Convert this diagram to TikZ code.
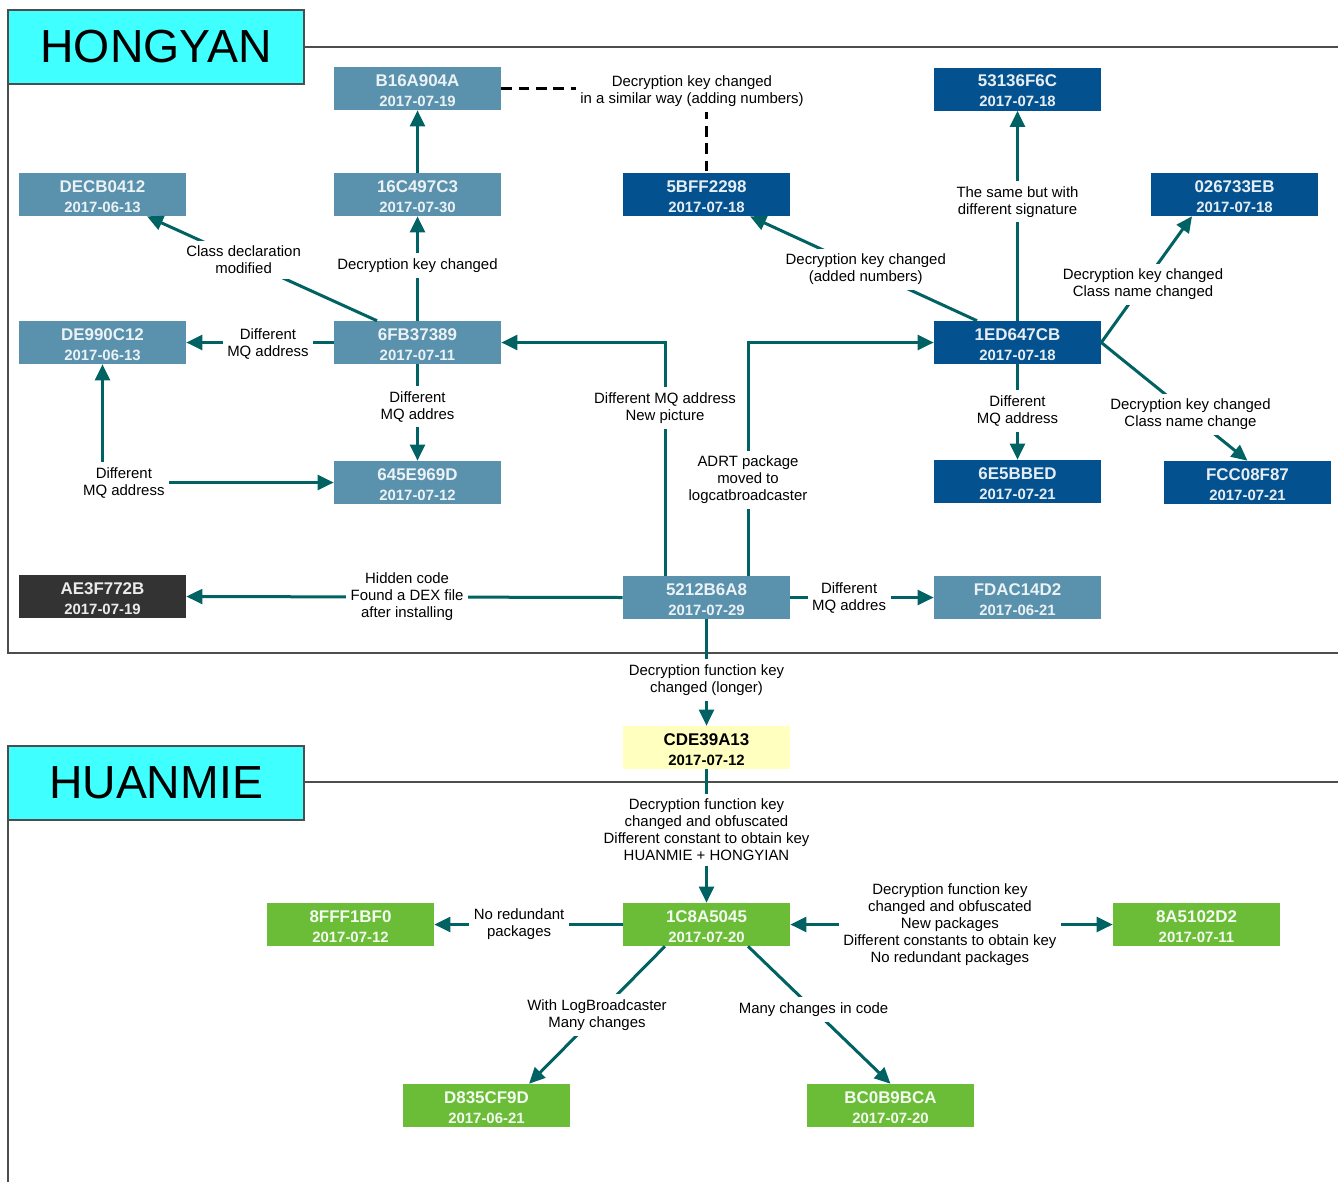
\documentclass[tikz,border=0pt]{standalone}
\usepackage{fontspec}
\setmainfont{Liberation Sans}
\usetikzlibrary{arrows.meta,calc}
\definecolor{steel}{HTML}{5A91AC}
\definecolor{navy}{HTML}{03528F}
\definecolor{coal}{HTML}{333333}
\definecolor{pale}{HTML}{FFFFC0}
\definecolor{grass}{HTML}{6BBD38}
\definecolor{tealline}{HTML}{006262}
\definecolor{cyanhead}{HTML}{40FFFF}
\definecolor{framegray}{HTML}{4D4D4D}
\newcommand{\nd}[2]{\rule{0pt}{12pt}#1\\{\fontsize{11.2}{15}\selectfont #2}}
\begin{document}
\begin{tikzpicture}[x=0.75pt,y=-0.75pt,
 >={Triangle[length=12pt,width=11pt]},
 box/.style={minimum width=125.25pt,minimum height=32.25pt,inner sep=0pt,align=center,font=\fontsize{12.7}{15}\selectfont\bfseries},
 lb/.style={box,fill=steel,text=white!88!steel},
 db/.style={box,fill=navy,text=white!90!navy},
 bk/.style={box,fill=coal,text=white!92!black},
 yb/.style={box,fill=pale,text=black},
 gb/.style={box,fill=grass,text=white!92!grass},
 conn/.style={draw=tealline,line width=2.25pt,->},
 lbl/.style={fill=white,text=black,align=center,inner xsep=3.5pt,inner ysep=4pt,font=\fontsize{11.2}{12.75}\selectfont},
 dline/.style={draw=black,line width=2pt,dash pattern=on 8pt off 5pt},
 head/.style={draw=framegray,line width=1pt,fill=cyanhead,minimum width=222pt,minimum height=55.5pt,inner sep=0pt,font=\fontsize{34.8}{40}\selectfont},
 frame/.style={draw=framegray,line width=1pt}]

\useasboundingbox (0,0) rectangle (1338,1182);

% section frames
\draw[frame] (1338,47) -- (8,47) -- (8,653) -- (1338,653);
\draw[frame] (1338,782) -- (8,782) -- (8,1182);
\node[head] (hhong) at (156,47) {HONGYAN};
\node[head] (hhuan) at (156,783) {HUANMIE};

% HONGYAN nodes
\node[lb] (nB16) at (417.5,88.5) {\nd{B16A904A}{2017-07-19}};
\node[lb] (n16C) at (417.5,194.5) {\nd{16C497C3}{2017-07-30}};
\node[lb] (nDEC) at (102.5,194.5) {\nd{DECB0412}{2017-06-13}};
\node[db] (n5BF) at (706.5,194.5) {\nd{5BFF2298}{2017-07-18}};
\node[db] (n531) at (1017.5,89) {\nd{53136F6C}{2017-07-18}};
\node[db] (n026) at (1234.5,194.5) {\nd{026733EB}{2017-07-18}};
\node[lb] (nDE9) at (102.5,342.5) {\nd{DE990C12}{2017-06-13}};
\node[lb] (n6FB) at (417.5,342.5) {\nd{6FB37389}{2017-07-11}};
\node[db] (n1ED) at (1017.5,342.5) {\nd{1ED647CB}{2017-07-18}};
\node[lb] (n645) at (417.5,482.5) {\nd{645E969D}{2017-07-12}};
\node[db] (n6E5) at (1017.5,481.5) {\nd{6E5BBED}{2017-07-21}};
\node[db] (nFCC) at (1247.5,482.5) {\nd{FCC08F87}{2017-07-21}};
\node[bk] (nAE3) at (102.5,596.5) {\nd{AE3F772B}{2017-07-19}};
\node[lb] (n521) at (706.5,597.5) {\nd{5212B6A8}{2017-07-29}};
\node[lb] (nFDA) at (1017.5,597.5) {\nd{FDAC14D2}{2017-06-21}};

% bridge and HUANMIE nodes
\node[yb] (nCDE) at (706.5,747.5) {\nd{CDE39A13}{2017-07-12}};
\node[gb] (n1C8) at (706.5,924.5) {\nd{1C8A5045}{2017-07-20}};
\node[gb] (n8FF) at (350.5,924.5) {\nd{8FFF1BF0}{2017-07-12}};
\node[gb] (n8A5) at (1196.5,924.5) {\nd{8A5102D2}{2017-07-11}};
\node[gb] (nD83) at (486.5,1105.5) {\nd{D835CF9D}{2017-06-21}};
\node[gb] (nBC0) at (890.5,1105.5) {\nd{BC0B9BCA}{2017-07-20}};

% HONGYAN connectors
\draw[conn] (n16C.north) -- (nB16.south);
\draw[conn] (n6FB.north) -- node[lbl,pos=0.53]{Decryption key changed} (n16C.south);
\draw[conn] ($(n6FB.north)+(-40.5,0)$) -- node[lbl,pos=0.58]{Class declaration\\modified} ($(nDEC.south)+(44.5,0)$);
\draw[conn] (n6FB.west) -- node[lbl,pos=0.446,yshift=-1pt]{Different\\MQ address} (nDE9.east);
\draw[conn] (n6FB.south) -- node[lbl,pos=0.44]{Different\\MQ addres} (n645.north);
\draw[conn,<->] (nDE9.south) |- node[lbl,pos=0.5,xshift=16pt]{Different\\MQ address} (n645.west);
\draw[conn] ($(n521.north)+(-41.5,0)$) |- node[lbl,pos=0.36]{Different MQ address\\New picture} (n6FB.east);
\draw[conn] ($(n521.north)+(41.5,0)$) |- node[lbl,pos=0.205]{ADRT package\\moved to\\logcatbroadcaster} (n1ED.west);
\draw[dline] (nB16.east) -| node[lbl,pos=0.5,xshift=-10.9pt,yshift=-2pt]{Decryption key changed\\in a similar way (adding numbers)} (n5BF.north);
\draw[conn] ($(n1ED.north)+(-40.5,0)$) -- node[lbl,pos=0.49]{Decryption key changed\\(added numbers)} ($(n5BF.south)+(43.5,0)$);
\draw[conn] (n1ED.north) -- node[lbl,pos=0.567]{The same but with\\different signature} (n531.south);
\draw[conn] (n1ED.east) -- node[lbl,pos=0.46]{Decryption key changed\\Class name changed} ($(n026.south)+(-42.5,0)$);
\draw[conn] (n1ED.east) -- node[lbl,pos=0.61]{Decryption key changed\\Class name change} (nFCC.north);
\draw[conn] (n1ED.south) -- node[lbl,pos=0.49]{Different\\MQ address} (n6E5.north);
\draw[conn] (n521.west) -- node[lbl,pos=0.494]{Hidden code\\Found a DEX file\\after installing} (nAE3.east);
\draw[conn] (n521.east) -- node[lbl,pos=0.41]{Different\\MQ addres} (nFDA.west);

% bridge connectors
\draw[conn] (n521.south) -- node[lbl,pos=0.57]{Decryption function key\\changed (longer)} (nCDE.north);
\draw[conn] (nCDE.south) -- node[lbl,pos=0.455]{Decryption function key\\changed and obfuscated\\Different constant to obtain key\\HUANMIE + HONGYIAN} (n1C8.north);

% HUANMIE connectors
\draw[conn] (n1C8.west) -- node[lbl,pos=0.55]{No redundant\\packages} (n8FF.east);
\draw[conn,<->] (n1C8.east) -- node[lbl,pos=0.495]{Decryption function key\\changed and obfuscated\\New packages\\Different constants to obtain key\\No redundant packages} (n8A5.west);
\draw[conn] ($(n1C8.south)+(-41.5,0)$) -- node[lbl,pos=0.5]{With LogBroadcaster\\Many changes} ($(nD83.north)+(42.5,0)$);
\draw[conn] ($(n1C8.south)+(41.5,0)$) -- node[lbl,pos=0.46]{Many changes in code} (nBC0.north);
\end{tikzpicture}
\end{document}
